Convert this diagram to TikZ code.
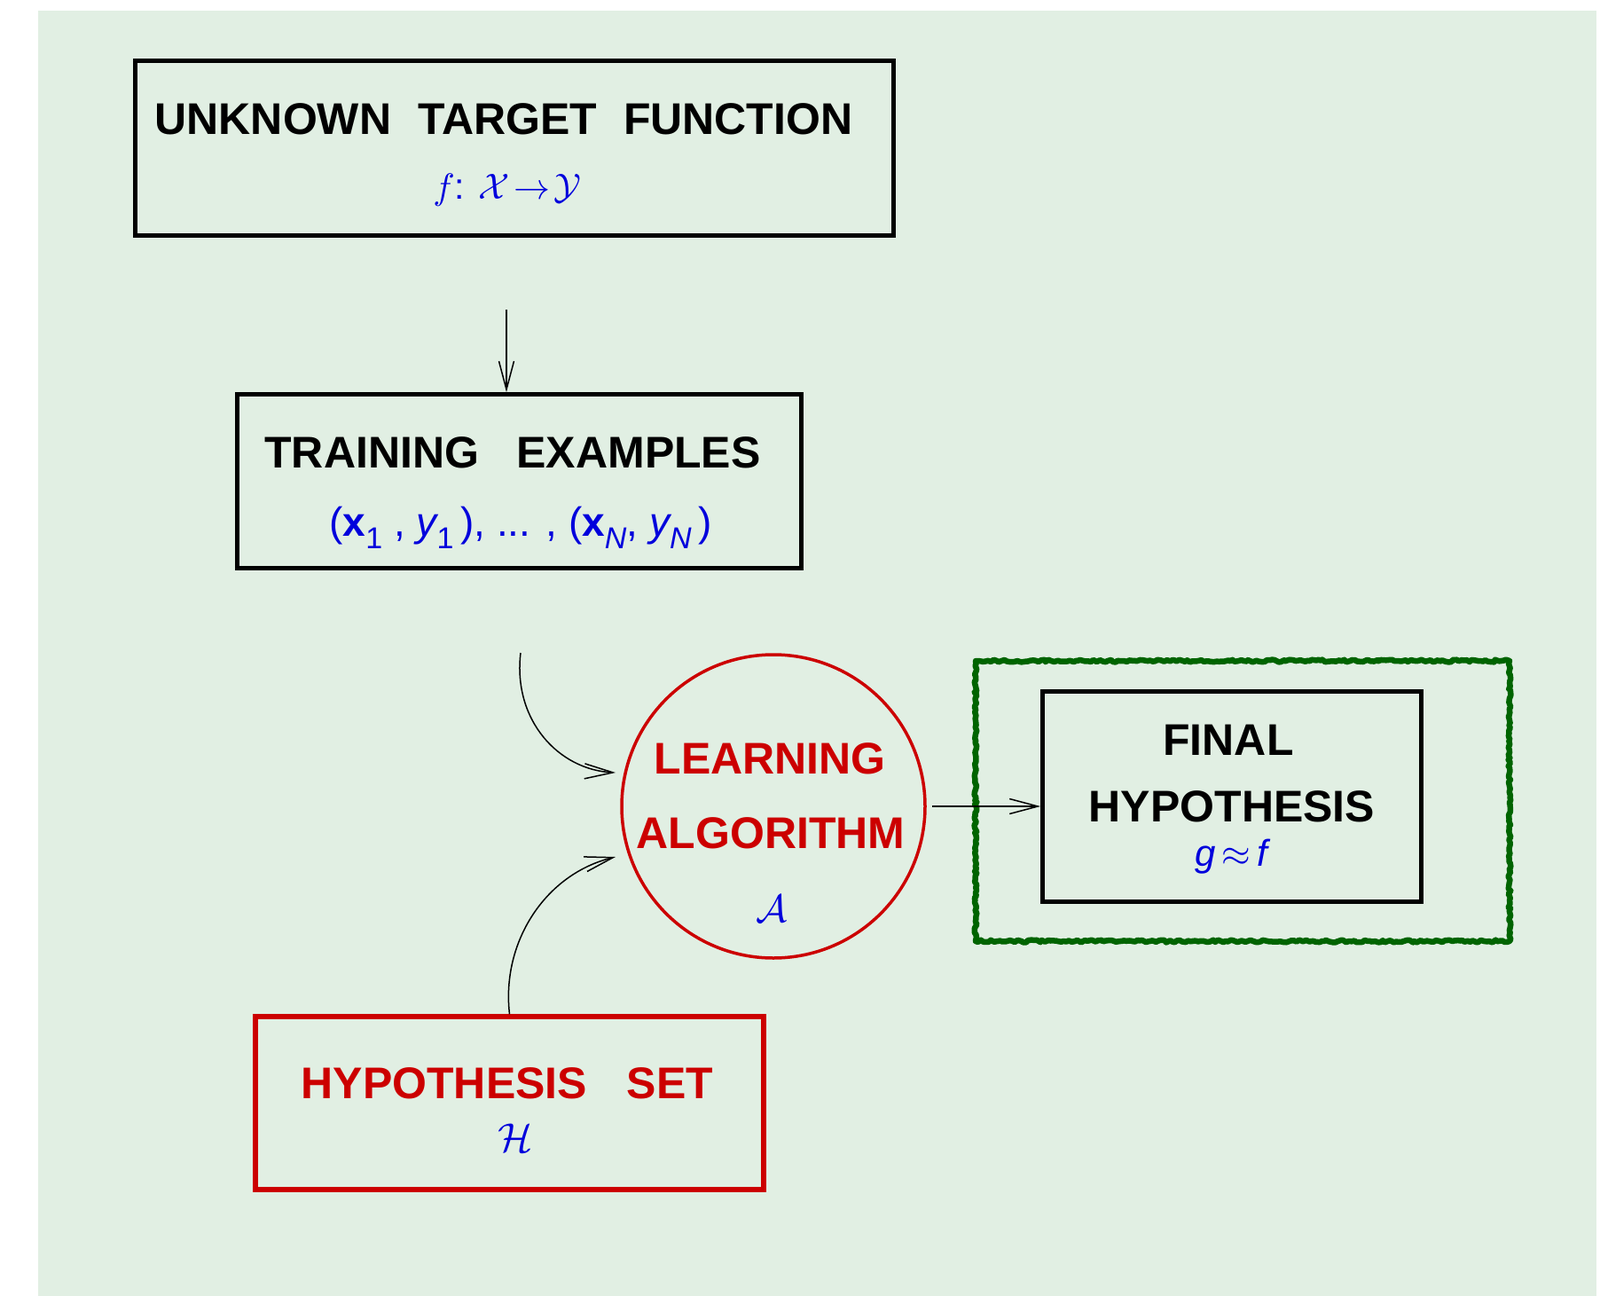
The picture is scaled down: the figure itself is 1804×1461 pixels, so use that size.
\documentclass[tikz,border=0pt]{standalone}
\usepackage{fontspec}
\setmainfont{Liberation Sans}
\DeclareFontShape{OML}{cmm}{m}{it}{<->cmmi10}{}
\DeclareFontShape{OMS}{cmsy}{m}{n}{<->cmsy10}{}
\DeclareFontShape{OT1}{cmr}{m}{n}{<->cmr10}{}
\usetikzlibrary{arrows.meta,decorations.pathmorphing}
\definecolor{bg}{RGB}{225,239,227}
\definecolor{myred}{RGB}{204,0,0}
\definecolor{myblue}{RGB}{0,0,220}
\definecolor{mygreen}{RGB}{0,100,0}
\newcommand\fsz[1]{\fontsize{#1}{#1}\selectfont}
\newcommand\mysub[1]{\raisebox{-0.32em}{\fsz{34}#1}}
\begin{document}
\begin{tikzpicture}[x=1pt,y=-1pt,
  box/.style={draw, line width=4.8pt, inner sep=0pt},
  ttl/.style={anchor=base, inner sep=0pt, font=\fsz{50}\bfseries},
  subt/.style={anchor=base, inner sep=0pt, text=myblue},
  arr/.style={line width=1.5pt, -{Straight Barb[length=32pt,width=17pt,line width=1.5pt]}}]
\useasboundingbox (0,0) rectangle (1804,1461);
\fill[bg] (43,12) rectangle (1800,1461);

% boxes
\node[box, minimum width=855pt, minimum height=197pt] (b1) at (580,167) {};
\node[box, minimum width=636pt, minimum height=196pt] (b2) at (585.5,542.5) {};
\node[draw=myred, line width=3.5pt, circle, minimum size=342pt, inner sep=0pt] (c) at (872,909) {};
\draw[mygreen, line width=6.5pt, line join=round, line cap=round, decorate,
  decoration={random steps, segment length=3pt, amplitude=1.4pt}]
  (1100,745) rectangle (1702,1061);
\node[box, minimum width=427pt, minimum height=237pt] (fin) at (1389,898) {};
\node[box, draw=myred, line width=5.5pt, minimum width=573pt, minimum height=195pt] (hs) at (574.5,1243.5) {};

% texts
\node[ttl] (t1) at (568,151) {UNKNOWN\hspace{0.6em}TARGET\hspace{0.6em}FUNCTION};
\node[subt, font=\fsz{41}] (s1) at (572,224) {$f$: $\mathcal{X}\!\to\!\mathcal{Y}$};
\node[ttl] (t2) at (578,527) {TRAINING\hspace{0.85em}EXAMPLES};
\node[subt, font=\fsz{46}] (s2) at (587,604) {({\bfseries x}\mysub{1} , {\itshape y}\mysub{1}\,), ... , ({\bfseries x}\mysub{\itshape N}, {\itshape y}\mysub{\itshape N}\,)};
\node[ttl, text=myred] (t3) at (868,872) {LEARNING};
\node[ttl, text=myred] (t4) at (869,956) {ALGORITHM};
\node[subt, font=\fsz{44}] (s3) at (870,1039) {$\mathcal{A}$};
\node[ttl] (t5) at (1385,851) {FINAL};
\node[ttl] (t6) at (1389,926) {HYPOTHESIS};
\node[subt, font=\fsz{42}] (s4) at (1388,976) {\itshape g\,$\approx$\,f};
\node[ttl, text=myred] (t7) at (572,1238) {HYPOTHESIS\hspace{0.9em}SET};
\node[subt, font=\fsz{46}] (s5) at (581,1298) {$\mathcal{H}$};

% connectors
\coordinate (p1) at (571,349);
\draw[arr] (p1) -- (p1 |- b2.north);
\coordinate (p2) at (587,736);
\draw[arr] (p2) .. controls (578,812) and (630,868) .. (694,871);
\draw[arr] (hs.north) .. controls (565,1062) and (615,985) .. (694,966);
\draw[arr] ([xshift=6pt]c.east) -- (fin.west |- c.east);
\end{tikzpicture}
\end{document}
